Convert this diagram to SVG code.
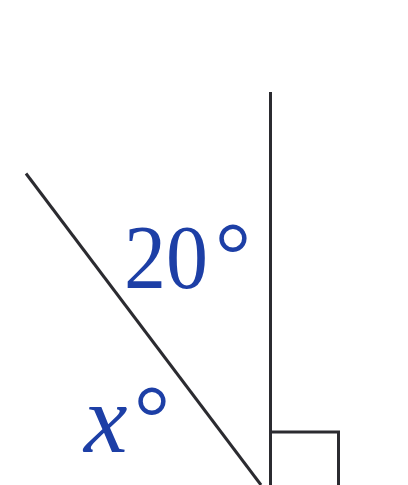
<svg xmlns="http://www.w3.org/2000/svg" width="408" height="485" viewBox="0 0 408 485">
<style>
.ln{stroke:#2b2b30;stroke-width:3;fill:none;stroke-linecap:butt}
.lbl{fill:#1d3fa6;font-family:"Liberation Serif","DejaVu Serif",serif}
.deg{font-size:90px;font-style:normal}
</style>
<rect width="408" height="485" fill="#ffffff"/>
<g id="connectors">
<line class="ln" x1="270.5" y1="92" x2="270.5" y2="485"/>
<line class="ln" x1="26" y1="173.5" x2="261" y2="485"/>
<polyline class="ln" points="270.5,432 338.5,432 338.5,485"/>
</g>
<g id="label-20">
<text class="lbl" x="124" y="288" font-size="92"><tspan textLength="84" lengthAdjust="spacingAndGlyphs">20</tspan><tspan class="deg" x="215" y="285">°</tspan></text>
</g>
<g id="label-x">
<text class="lbl" x="84" y="452" font-size="98" font-style="italic">x<tspan class="deg" x="134" y="448">°</tspan></text>
</g>
</svg>
